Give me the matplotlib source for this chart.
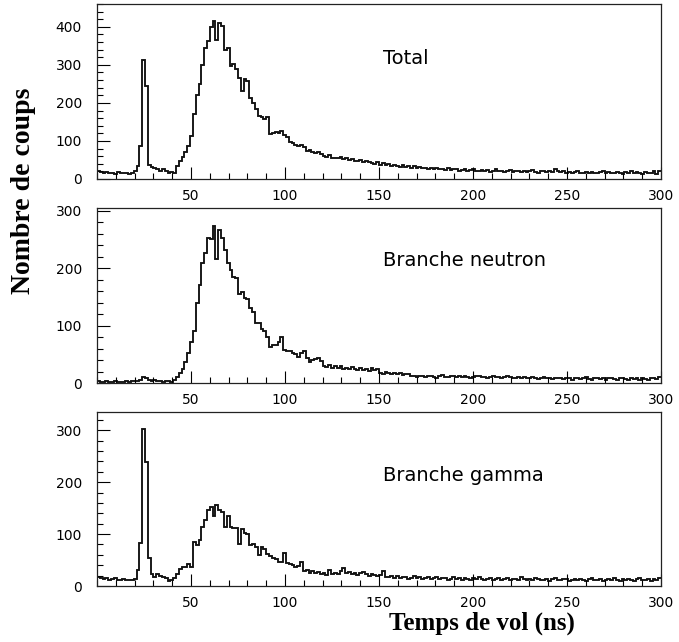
import matplotlib
matplotlib.use('Agg')
import matplotlib.pyplot as plt
from matplotlib.ticker import MultipleLocator
import numpy as np

# 200 bins of 1.5 ns from 0 to 300 ns
bin_width = 1.5
n_bins = 200

total = [
    20, 18, 17, 18, 16, 17, 14, 19, 16, 15, 17, 14, 16, 20, 35, 88, 313, 245, 36, 31,
    28, 26, 22, 25, 20, 17, 19, 16, 34, 47, 58, 70, 86, 113, 172, 222, 250, 300, 345, 362,
    400, 414, 365, 410, 402, 340, 345, 298, 303, 288, 265, 232, 262, 258, 212, 200, 185, 165, 162, 158,
    162, 118, 120, 124, 122, 126, 115, 110, 97, 95, 90, 88, 89, 84, 74, 76, 70, 68, 71, 66,
    60, 58, 62, 55, 56, 54, 59, 52, 54, 49, 52, 48, 46, 50, 44, 47, 45, 42, 40, 44,
    38, 41, 36, 39, 34, 37, 35, 32, 36, 31, 33, 30, 34, 29, 31, 28, 30, 27, 29, 26,
    28, 25, 27, 24, 28, 23, 26, 25, 22, 24, 27, 21, 23, 25, 22, 20, 24, 21, 23, 19,
    22, 25, 20, 22, 19, 21, 23, 18, 20, 22, 19, 21, 18, 20, 23, 19, 17, 21, 20, 18,
    22, 19, 26, 20, 18, 21, 17, 19, 16, 18, 20, 17, 15, 18, 16, 19, 17, 15, 18, 20,
    16, 18, 15, 17, 19, 16, 14, 18, 17, 20, 15, 18, 16, 14, 19, 17, 15, 20, 13, 21,
]

neutron = [
    3, 2, 2, 3, 1, 2, 3, 2, 2, 1, 3, 2, 3, 4, 4, 6, 11, 9, 5, 4,
    6, 3, 4, 2, 3, 4, 2, 5, 11, 17, 24, 37, 52, 72, 91, 140, 171, 209, 226, 252,
    251, 274, 217, 267, 252, 232, 209, 197, 185, 183, 156, 158, 148, 147, 130, 124, 104, 104, 95, 91,
    81, 63, 66, 66, 72, 81, 58, 55, 55, 52, 50, 46, 52, 55, 44, 37, 40, 42, 44, 38,
    30, 28, 32, 27, 29, 26, 30, 25, 27, 24, 28, 25, 23, 26, 22, 24, 21, 26, 23, 24,
    18, 16, 19, 17, 15, 18, 16, 17, 14, 16, 15, 13, 12, 11, 13, 12, 10, 12, 13, 11,
    9, 12, 14, 11, 10, 12, 13, 11, 12, 10, 12, 11, 9, 10, 12, 13, 11, 10, 9, 11,
    12, 10, 11, 9, 10, 12, 11, 9, 8, 10, 9, 11, 8, 9, 10, 8, 7, 9, 10, 8,
    9, 7, 8, 9, 8, 7, 9, 8, 6, 8, 9, 7, 8, 10, 7, 6, 8, 9, 7, 8,
    6, 9, 8, 7, 5, 8, 9, 7, 6, 8, 7, 9, 6, 8, 7, 5, 8, 9, 7, 10,
]

gamma = [
    18, 15, 14, 16, 12, 13, 15, 12, 11, 13, 12, 11, 12, 13, 30, 82, 302, 238, 53, 24,
    18, 23, 19, 18, 15, 10, 11, 15, 24, 32, 37, 36, 42, 37, 85, 79, 88, 114, 127, 146,
    153, 135, 156, 146, 143, 114, 135, 113, 111, 111, 81, 109, 103, 100, 79, 80, 76, 60, 76, 72,
    62, 58, 53, 52, 47, 46, 63, 44, 42, 40, 37, 38, 47, 28, 30, 26, 28, 25, 27, 24,
    26, 22, 31, 24, 26, 23, 28, 34, 25, 27, 24, 26, 22, 25, 27, 23, 20, 24, 21, 19,
    22, 28, 18, 17, 20, 16, 19, 15, 18, 17, 14, 16, 19, 15, 17, 13, 16, 18, 14, 15,
    17, 13, 15, 16, 12, 14, 17, 13, 15, 12, 16, 14, 12, 15, 13, 17, 14, 12, 13, 15,
    11, 14, 16, 12, 13, 15, 11, 13, 14, 12, 18, 13, 11, 14, 12, 15, 13, 11, 12, 14,
    10, 13, 15, 12, 11, 13, 14, 10, 12, 13, 11, 14, 12, 10, 13, 15, 11, 12, 14, 10,
    12, 13, 11, 15, 12, 10, 13, 11, 14, 12, 10, 13, 15, 11, 12, 14, 10, 13, 12, 15,
]

panels = [
    (total, 'Total', 460, 400, 316),
    (neutron, 'Branche neutron', 305, 300, 213),
    (gamma, 'Branche gamma', 335, 300, 213),
]
# axes boxes in figure fractions (left, bottom, width, height)
boxes = [
    (0.1429, 0.7212, 0.8306, 0.2726),
    (0.1429, 0.4034, 0.8306, 0.2726),
    (0.1429, 0.0872, 0.8306, 0.2710),
]

edges = np.arange(n_bins + 1) * bin_width

fig = plt.figure(figsize=(6.79, 6.42), dpi=100)

for (vals, label, ymax, ytop, ytext), box in zip(panels, boxes):
    ax = fig.add_axes(box)
    ax.stairs(vals, edges, color='#111111', lw=1.35, baseline=None)
    ax.set_xlim(0, 300)
    ax.set_ylim(0, ymax)
    ax.xaxis.set_minor_locator(MultipleLocator(10))
    ax.yaxis.set_minor_locator(MultipleLocator(20))
    ax.set_xticks([50, 100, 150, 200, 250, 300])
    ax.set_yticks(list(range(0, ytop + 1, 100)))
    ax.tick_params(which='both', direction='in', top=False, right=False,
                   labelsize=10, width=0.8)
    ax.tick_params(axis='x', which='major', length=8.5, pad=7.5)
    ax.tick_params(axis='x', which='minor', length=4.5)
    ax.tick_params(axis='y', which='major', length=9, pad=11)
    ax.tick_params(axis='y', which='minor', length=4.5)
    for s in ax.spines.values():
        s.set_linewidth(0.9)
        s.set_color('#222222')
    ax.text(152, ytext, label, fontsize=14, ha='left', va='center')

fig.text(0.034, 1 - 191 / 642, 'Nombre de coups', rotation=90,
         family='Liberation Serif', weight='bold', fontsize=20,
         ha='center', va='center')
fig.text(482 / 679, 1 - 630 / 642, 'Temps de vol (ns)',
         family='Liberation Serif', weight='bold', fontsize=18,
         ha='center', va='baseline')

fig.savefig('out.png', dpi=100)
